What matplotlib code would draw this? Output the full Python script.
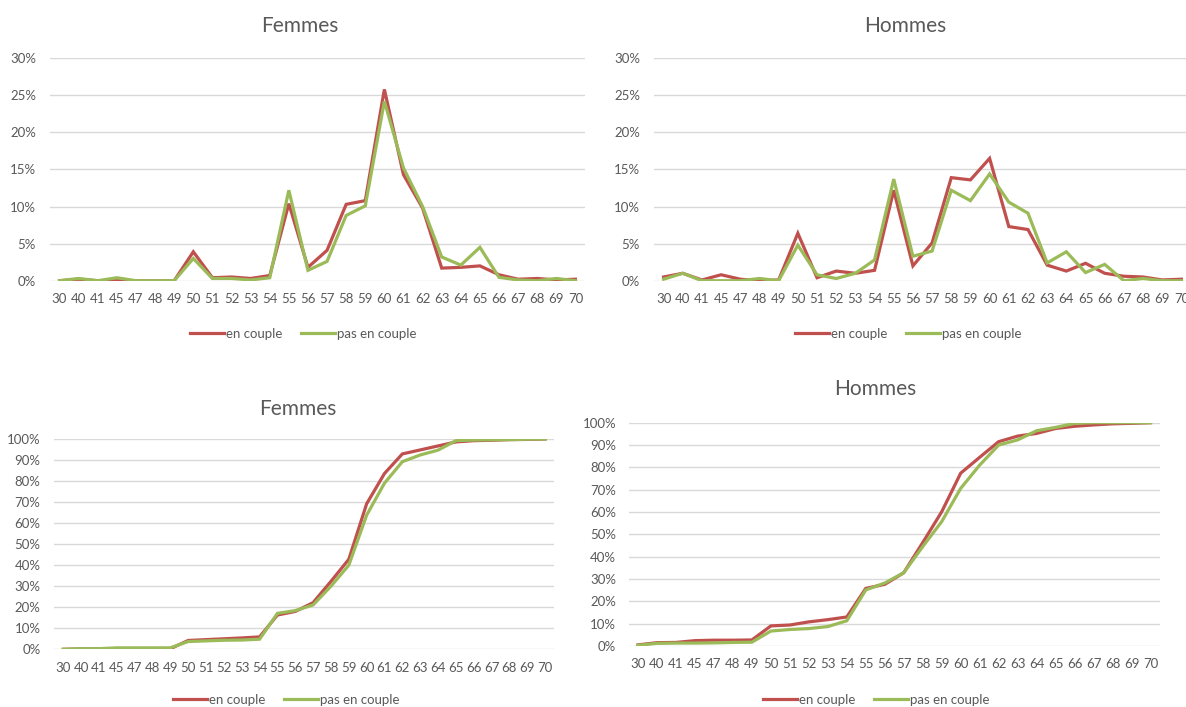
import matplotlib
matplotlib.use("Agg")
import matplotlib.pyplot as plt
from matplotlib.ticker import FuncFormatter, MultipleLocator

plt.rcParams['font.family'] = ['Lato', 'DejaVu Sans']

ages = ["30", "40", "41", "45", "47", "48", "49", "50", "51", "52", "53", "54", "55", "56",
        "57", "58", "59", "60", "61", "62", "63", "64", "65", "66", "67", "68", "69", "70"]

# Distribution (%), Femmes
f_couple = [0.0, 0.2, 0.0, 0.0, 0.0, 0.0, 0.0, 3.9, 0.4, 0.5, 0.3, 0.7, 10.4, 1.8,
            4.1, 10.3, 10.8, 25.8, 14.3, 9.8, 1.7, 1.8, 2.0, 0.8, 0.2, 0.3, 0.1, 0.2]
f_seul = [0.0, 0.3, 0.0, 0.4, 0.0, 0.0, 0.0, 3.0, 0.3, 0.3, 0.1, 0.4, 12.2, 1.4,
          2.6, 8.8, 10.1, 24.2, 15.2, 10.0, 3.2, 2.1, 4.5, 0.45, 0.1, 0.0, 0.3, 0.0]

# Distribution (%), Hommes
h_couple = [0.5, 1.0, 0.1, 0.8, 0.2, 0.0, 0.1, 6.4, 0.4, 1.3, 1.0, 1.4, 12.2, 2.0,
            5.1, 13.9, 13.6, 16.5, 7.3, 6.9, 2.1, 1.3, 2.35, 1.0, 0.6, 0.5, 0.1, 0.2]
h_seul = [0.2, 1.0, 0.0, 0.0, 0.0, 0.3, 0.0, 4.8, 0.8, 0.3, 1.0, 2.8, 13.7, 3.3,
          4.0, 12.2, 10.8, 14.4, 10.6, 9.1, 2.4, 3.9, 1.1, 2.2, 0.0, 0.3, 0.0, 0.0]

# Cumulative (%), Femmes
fc_couple = [0.0, 0.2, 0.2, 0.2, 0.2, 0.2, 0.3, 4.2, 4.6, 5.0, 5.4, 5.9, 16.3, 18.0,
             22.2, 32.3, 42.8, 69.2, 83.6, 92.9, 94.8, 96.7, 98.6, 99.2, 99.4, 99.7, 99.8, 100.0]
fc_seul = [0.0, 0.3, 0.3, 0.7, 0.7, 0.7, 0.7, 3.7, 4.0, 4.3, 4.4, 4.8, 17.1, 18.4,
           21.1, 30.0, 40.0, 63.8, 79.0, 89.2, 92.4, 94.7, 99.2, 99.5, 99.6, 99.7, 99.9, 100.0]

# Cumulative (%), Hommes
hc_couple = [0.5, 1.5, 1.6, 2.4, 2.6, 2.6, 2.7, 9.0, 9.4, 10.8, 11.8, 13.0, 25.8, 27.6,
             32.8, 46.3, 60.1, 77.4, 84.5, 91.5, 94.0, 95.2, 97.4, 98.4, 99.0, 99.5, 99.7, 100.0]
hc_seul = [0.3, 1.2, 1.3, 1.3, 1.4, 1.6, 1.7, 6.7, 7.4, 7.8, 8.7, 11.3, 25.1, 28.2,
           32.8, 44.5, 55.7, 70.6, 81.0, 90.0, 92.3, 96.4, 97.9, 99.7, 100.0, 100.0, 100.0, 100.0]

titles = ["Femmes", "Hommes", "Femmes", "Hommes"]
series_names = ["en couple", "pas en couple"]

RED = "#C0504D"
GREEN = "#9BBB59"
GRID = "#D9D9D9"
TXT = "#595959"

W, H = 1186, 707
fig = plt.figure(figsize=(W / 100, H / 100), dpi=100)


def px_axes(x0, x1, ytop, ybot):
    return fig.add_axes([x0 / W, 1 - ybot / H, (x1 - x0) / W, (ybot - ytop) / H])


panels = [
    dict(box=(50, 585, 58.3, 280.7), data=(f_couple, f_seul), ymax=30, step=5,
         title=(300, 31.5), leg=(303.5, 334), xpad=9, ypad=10),
    dict(box=(654, 1191, 58.3, 280.7), data=(h_couple, h_seul), ymax=30, step=5,
         title=(905, 31.5), leg=(908.5, 334), xpad=9, ypad=10),
    dict(box=(54.4, 554, 439, 649.3), data=(fc_couple, fc_seul), ymax=100, step=10,
         title=(298, 415), leg=(286.5, 700), xpad=9, ypad=10),
    dict(box=(628.5, 1160, 422.7, 646), data=(hc_couple, hc_seul), ymax=100, step=10,
         title=(875, 395), leg=(876.5, 700), xpad=9, ypad=9),
]

x = list(range(len(ages)))
for p, title in zip(panels, titles):
    ax = px_axes(*p["box"])
    lines = []
    for vals, col, name in zip(p["data"], (RED, GREEN), series_names):
        ln, = ax.plot(x, vals, color=col, lw=2.3, solid_joinstyle='miter', label=name, zorder=3)
        lines.append(ln)
    ax.set_xlim(-0.5, len(ages) - 0.5)
    ax.set_ylim(0, p["ymax"])
    ax.yaxis.set_major_locator(MultipleLocator(p["step"]))
    ax.yaxis.set_major_formatter(FuncFormatter(lambda v, _: f"{v:.0f}%"))
    ax.set_xticks(x)
    ax.set_xticklabels(ages)
    ax.grid(axis='y', color=GRID, lw=1.0, zorder=0)
    ax.set_axisbelow(True)
    for s in ax.spines.values():
        s.set_visible(False)
    ax.tick_params(axis='both', length=0, labelsize=9.5, labelcolor=TXT)
    ax.tick_params(axis='x', pad=p["xpad"])
    ax.tick_params(axis='y', pad=p["ypad"])
    tx, ty = p["title"]
    fig.text(tx / W, 1 - ty / H, title, ha='center', va='baseline', fontsize=15, color=TXT)
    lx, ly = p["leg"]
    fig.legend(handles=lines, loc='center', bbox_to_anchor=(lx / W, 1 - ly / H), ncol=2,
               frameon=False, fontsize=9.5, labelcolor=TXT, handlelength=2.6,
               handletextpad=0.15, columnspacing=1.4, borderpad=0, borderaxespad=0)

fig.savefig("out.png", dpi=100)
